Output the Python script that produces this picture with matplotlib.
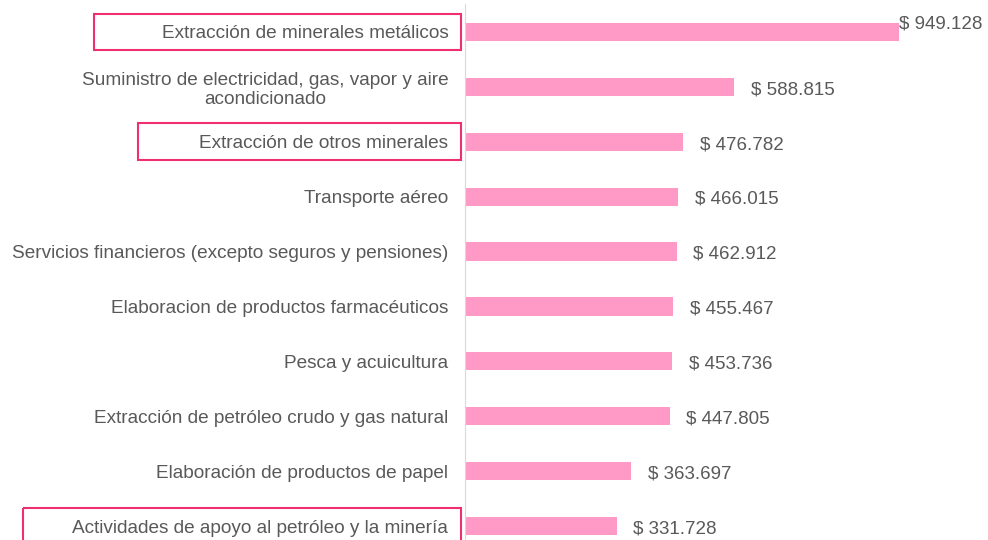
import matplotlib
matplotlib.use("Agg")
import matplotlib.pyplot as plt
from matplotlib.patches import Rectangle
from matplotlib.transforms import blended_transform_factory

categories = [
    "Extracción de minerales metálicos",
    "Suministro de electricidad, gas, vapor y aire\nacondicionado",
    "Extracción de otros minerales",
    "Transporte aéreo",
    "Servicios financieros (excepto seguros y pensiones)",
    "Elaboracion de productos farmacéuticos",
    "Pesca y acuicultura",
    "Extracción de petróleo crudo y gas natural",
    "Elaboración de productos de papel",
    "Actividades de apoyo al petróleo y la minería",
]
values = [949128, 588815, 476782, 466015, 462912, 455467, 453736, 447805, 363697, 331728]
highlighted = [0, 2, 9]

BAR = "#ff99c6"
BOX = "#ef2f6e"
TXT = "#595959"

plt.rcParams['font.family'] = ['Liberation Sans', 'DejaVu Sans']

def fmt(v):
    return "$ " + f"{v:,}".replace(",", ".")

def main():
    fig = plt.figure(figsize=(9.88, 5.40), dpi=100)
    ax = fig.add_axes([0.4706, -0.025, 0.5294, 1.0167])
    y = list(range(len(categories)))
    ax.barh(y, values, height=0.33, color=BAR)
    ax.set_ylim(len(categories) - 0.5, -0.5)
    ax.set_xlim(0, 1143700)

    for s in ["top", "right", "bottom"]:
        ax.spines[s].set_visible(False)
    ax.spines["left"].set_color("#d9d9d9")
    ax.set_xticks([])
    ax.set_yticks(y)
    ax.set_yticklabels(categories, fontsize=13.7, color=TXT, multialignment="center",
                       linespacing=1.2)
    ax.tick_params(axis="y", length=0, pad=12)

    for i, v in enumerate(values):
        if i == 0:
            ax.annotate(fmt(v), (v, i), xytext=(0, 6), textcoords="offset points",
                        ha="left", va="center", fontsize=13.5, color=TXT)
        else:
            ax.annotate(fmt(v), (v, i), xytext=(12, -2), textcoords="offset points",
                        ha="left", va="center", fontsize=13.5, color=TXT)

    tr = blended_transform_factory(fig.transFigure, ax.transData)
    box_left = {0: 94, 2: 138, 9: 23}
    for i in highlighted:
        x0 = box_left[i] / 988
        w = 461 / 988 - x0
        ax.add_patch(Rectangle((x0, i - 0.335), w, 0.67, transform=tr, fill=False,
                               edgecolor=BOX, linewidth=1.5, clip_on=False))

    fig.savefig("out.png", dpi=100)

if __name__ == "__main__":
    main()
